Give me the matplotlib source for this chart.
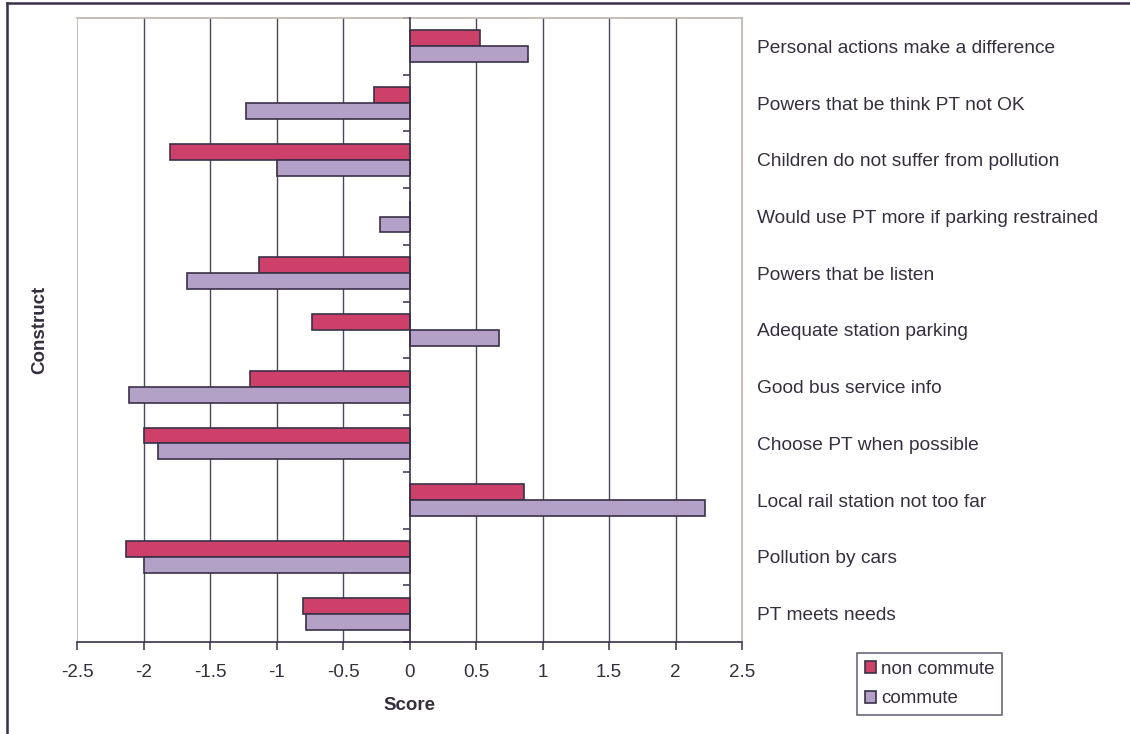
import numpy as np
import matplotlib
matplotlib.use("Agg")
import matplotlib.pyplot as plt
from matplotlib.ticker import FormatStrFormatter
from matplotlib.lines import Line2D

plt.rcParams['font.family'] = ['Liberation Sans', 'DejaVu Sans']

# ---- data (top to bottom) ----
categories = [
    "Personal actions make a difference",
    "Powers that be think PT not OK",
    "Children do not suffer from pollution",
    "Would use PT more if parking restrained",
    "Powers that be listen",
    "Adequate station parking",
    "Good bus service info",
    "Choose PT when possible",
    "Local rail station not too far",
    "Pollution by cars",
    "PT meets needs",
]
non_commute = [0.53, -0.27, -1.80, 0.0, -1.13, -0.73, -1.20, -2.00, 0.86, -2.13, -0.80]
commute = [0.89, -1.23, -1.00, -0.22, -1.67, 0.67, -2.11, -1.89, 2.22, -2.00, -0.78]
series_names = ["non commute", "commute"]
x_ticks = [-2.5, -2, -1.5, -1, -0.5, 0, 0.5, 1, 1.5, 2, 2.5]
x_label = "Score"
y_label = "Construct"

RED = "#cc406a"
LAV = "#b3a1c7"
EDGE = "#3a3048"
TXT = "#352f3d"
TAN = "#bfb3aa"
GRID = "#4e4760"
FS = 13.5
FS_CAT = 13.8

W, H = 1130, 734
fig = plt.figure(figsize=(W / 100, H / 100), dpi=100)
fig.patch.set_facecolor("white")

left, right, top, bottom = 77, 742, 18, 642
ax = fig.add_axes([left / W, 1 - bottom / H, (right - left) / W, (bottom - top) / H])
ax.set_facecolor("white")

n = len(categories)
pos = np.arange(n)
bh = 0.28
ax.barh(pos - bh / 2, non_commute, height=bh, color=RED, edgecolor=EDGE, linewidth=1.2,
        label=series_names[0], zorder=3)
ax.barh(pos + bh / 2, commute, height=bh, color=LAV, edgecolor=EDGE, linewidth=1.2,
        label=series_names[1], zorder=3)

ax.set_xlim(x_ticks[0], x_ticks[-1])
ax.set_ylim(n - 0.5, -0.5)

# grid
for xv in x_ticks[1:-1]:
    if xv != 0:
        ax.axvline(xv, color=GRID, lw=1.0, zorder=1)
ax.axvline(x_ticks[0], color=TAN, lw=1.2, zorder=1)

# spines
for s in ("top", "right"):
    ax.spines[s].set_color(TAN)
    ax.spines[s].set_linewidth(1.2)
ax.spines["bottom"].set_color(EDGE)
ax.spines["bottom"].set_linewidth(1.2)
ax.spines["left"].set_position(("data", 0))
ax.spines["left"].set_color(EDGE)
ax.spines["left"].set_linewidth(1.2)
ax.spines["left"].set_zorder(4)

ax.set_xticks(x_ticks)
ax.xaxis.set_major_formatter(FormatStrFormatter("%g"))
ax.tick_params(axis="x", direction="out", length=6, width=1.1, color=EDGE,
               labelsize=FS, labelcolor=TXT, pad=10)
ax.set_yticks(np.arange(n + 1) - 0.5)
ax.set_yticklabels([])
ax.tick_params(axis="y", direction="out", length=5, width=1.1, color=EDGE)

# category labels on the right
ax2 = ax.twinx()
ax2.set_ylim(ax.get_ylim())
ax2.set_yticks(pos)
ax2.set_yticklabels(categories)
ax2.tick_params(axis="y", length=0, pad=11, labelsize=FS_CAT, labelcolor=TXT)
for s in ax2.spines.values():
    s.set_visible(False)

# axis titles
ax.set_xlabel(x_label, fontsize=FS, fontweight="bold", color=TXT, va="center")
ax.xaxis.set_label_coords(0.5, ((H - 706) / H - (1 - bottom / H)) / ((bottom - top) / H))
ax.set_ylabel(y_label, fontsize=FS, fontweight="bold", color=TXT, va="center")
ax.yaxis.set_label_coords((40 - left) / (right - left), 0.5)

# legend
leg = fig.legend(loc="upper left", bbox_to_anchor=(857 / W, 1 - 653 / H),
                 bbox_transform=fig.transFigure, fontsize=FS, frameon=True,
                 fancybox=False, shadow=False, handlelength=0.6, handleheight=0.6,
                 handletextpad=0.3, borderpad=0.4, labelspacing=0.68,
                 borderaxespad=0)
leg.get_frame().set_edgecolor(EDGE)
leg.get_frame().set_linewidth(1.1)
for t in leg.get_texts():
    t.set_color(TXT)

# outer chart border (left & top visible)
fig.add_artist(Line2D([7 / W, 7 / W], [0, 1 - 3 / H], transform=fig.transFigure,
                      color=EDGE, lw=1.8))
fig.add_artist(Line2D([7 / W, 1], [1 - 3 / H, 1 - 3 / H], transform=fig.transFigure,
                      color=EDGE, lw=1.8))

fig.savefig("out.png", dpi=100, facecolor="white")
